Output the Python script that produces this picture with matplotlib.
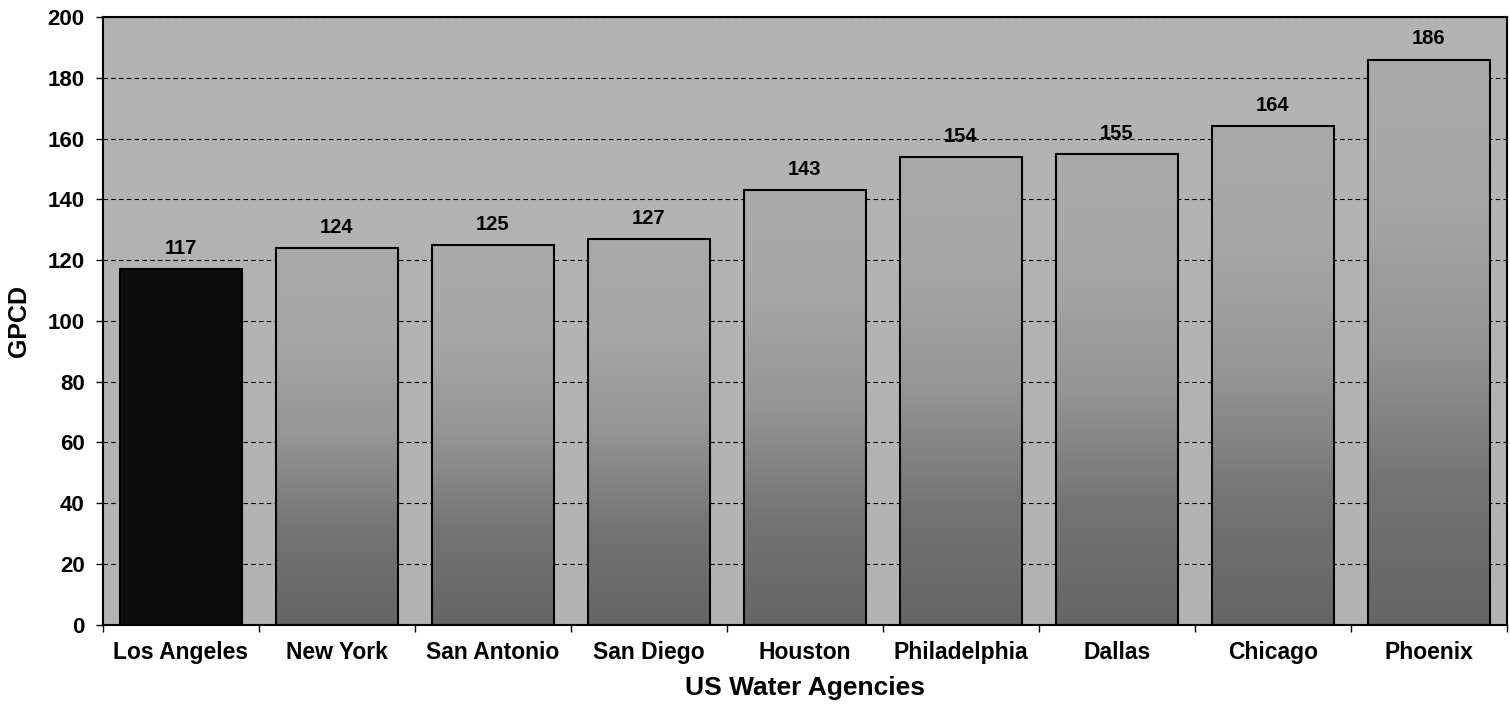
import matplotlib
matplotlib.use('Agg')
import matplotlib.pyplot as plt
import numpy as np
from matplotlib.colors import LinearSegmentedColormap

agencies = ["Los Angeles", "New York", "San Antonio", "San Diego", "Houston",
            "Philadelphia", "Dallas", "Chicago", "Phoenix"]
gpcd = [117, 124, 125, 127, 143, 154, 155, 164, 186]
y_ticks = list(range(0, 201, 20))

plt.rcParams['font.family'] = ['Liberation Sans', 'DejaVu Sans']
plt.rcParams['font.weight'] = 'bold'

fig = plt.figure(figsize=(15.1, 7.1), dpi=100)
ax = fig.add_axes([0.068, 0.12, 0.930, 0.856])
ax.set_facecolor('#b3b3b3')

x = np.arange(len(agencies))
bars = ax.bar(x, gpcd, width=0.78, color='none', edgecolor='black',
              linewidth=1.5, zorder=3)
cmap = LinearSegmentedColormap.from_list('g', ['#656565', '#747474', '#959595', '#a6a6a6', '#aaaaaa'])
grad = np.linspace(0, 1, 256).reshape(-1, 1)
for i, b in enumerate(bars):
    if i == 0:
        b.set_facecolor('#0d0d0d')
    else:
        im = ax.imshow(grad, extent=(b.get_x(), b.get_x() + b.get_width(), 0, b.get_height()),
                       origin='lower', aspect='auto', cmap=cmap, zorder=2.5,
                       interpolation='bilinear')
        im.set_clip_path(b)

for xi, v in zip(x, gpcd):
    ax.annotate(str(v), (xi, v), xytext=(0, 8), textcoords='offset points',
                ha='center', va='bottom', fontsize=14.5, fontweight='bold')

ax.set_xlim(-0.5, len(agencies) - 0.5)
ax.set_ylim(0, 200)
ax.set_yticks(y_ticks)
ax.set_yticklabels([str(t) for t in y_ticks], fontsize=16, fontweight='bold')
ax.tick_params(axis='y', length=5, width=1, pad=8)

ax.set_xticks(x)
ax.set_xticklabels(agencies, fontsize=16.5, fontweight='bold')
ax.tick_params(axis='x', which='major', length=0, pad=12)
ax.set_xticks(np.arange(-0.5, len(agencies), 1), minor=True)
ax.tick_params(axis='x', which='minor', length=5, width=1)

ax.set_axisbelow(True)
ax.yaxis.grid(True, linestyle=(0, (4, 3)), color='black', linewidth=0.8)

for s in ax.spines.values():
    s.set_linewidth(1.5)
    s.set_color('black')

ax.set_ylabel('GPCD', fontsize=18, fontweight='bold', labelpad=12)
ax.set_xlabel('US Water Agencies', fontsize=19, fontweight='bold', labelpad=8)

fig.savefig('out.png', dpi=100)
